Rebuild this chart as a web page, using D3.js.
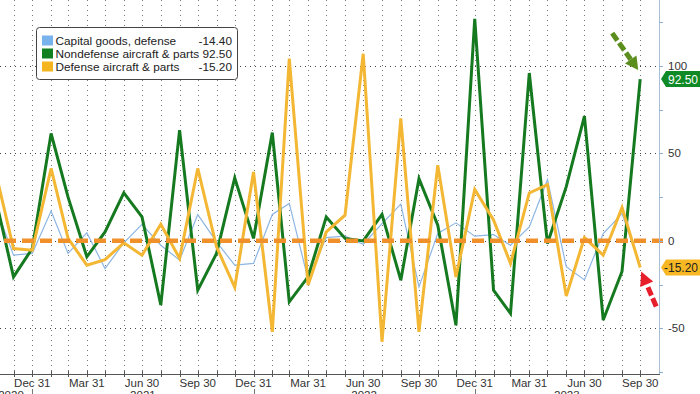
<!DOCTYPE html>
<html>
<head>
<meta charset="utf-8">
<script src="https://cdn.jsdelivr.net/npm/d3@7"></script>
<style>
  html, body { margin: 0; padding: 0; background: #fff; }
  svg { display: block; font-family: "Liberation Sans", Arial, sans-serif; }
</style>
</head>
<body>
<svg id="chart" width="700" height="394"></svg>
<script>
// monthly series, month-end, Oct 2020 .. Sep 2023 (% change)
const first_month = "2020-10-01";
const n_months = 36;

const capital_defense = [20, -8.2, -7.2, 17.1, -7.2, 4.6, -15.8, -1.1, 9.5, -2.5, -11, 15,
  -0.6, -13.9, -12.9, 15.1, 21.4, -22, 1.9, 2.7, -1.9, 9.9, 21, -26.3,
  4.2, 10.3, 2.7, 3.6, -2.5, 8, 35, -14.8, -22.3, 4.2, 15.6, -14.4];
const nondefense_aircraft = [25, -20.6, -4.3, 61.4, 25, -9.1, 5.1, 27.4, 13.7, -36.7, 63.3, -28.2,
  -7.2, 36, 1.4, 61.9, -34.9, -20.6, 13.7, 1.4, 0, 15.1, -22.5, 35.6,
  9, -48.2, 127, -28.2, -41.5, 96, -1.5, 31, 71.3, -45.3, -17.5, 92.5];
const defense_aircraft = [40, -4.4, -5.3, 41.4, 1.4, -13.9, -10.7, -1.1, -8.2, 9.5, -10, 41.4,
  -3.4, -26.6, 39.4, -52, 104.2, -25.3, 5.1, 14.7, 107, -57.7, 70, -52,
  43.3, -20.6, 29.4, 12, -12.9, 27.4, 32.2, -31.6, 1.9, -8.2, 19, -15.2];

const series = [
  { label: "Capital goods, defense", values: capital_defense, color: "#8db6e3", swatch: "#79b3ee", width: 1.2 },
  { label: "Nondefense aircraft & parts", values: nondefense_aircraft, color: "#157a1f", swatch: "#0f7f1f", width: 3 },
  { label: "Defense aircraft & parts", values: defense_aircraft, color: "#f3b733", swatch: "#f5b520", width: 3 },
];

const y_ticks = [-50, 0, 50, 100];
const y_minor = [-75, -50, -25, 0, 25, 50, 75, 100, 125];
const years = [
  { label: "2020", start: "2020-11-08", end: "2020-12-31" },
  { label: "2021", start: "2020-12-31", end: "2021-12-31" },
  { label: "2022", start: "2021-12-31", end: "2022-12-31" },
  { label: "2023", start: "2022-12-31", end: "2023-10-31" },
];

const svg = d3.select("#chart");
const plot = { left: 0, right: 659, top: 0, bottom: 374 };

// month-end dates
const months = d3.utcMonths(new Date(first_month), d3.utcMonth.offset(new Date(first_month), n_months))
  .map(function (d) { return d3.utcDay.offset(d3.utcMonth.offset(d, 1), -1); });

const x = d3.scaleUtc()
  .domain([new Date("2020-12-31"), new Date("2023-09-30")])
  .range([32.3, 640.2]);
const y = d3.scaleLinear().domain([-50, 100]).range([328.3, 66]);

svg.append("defs").append("clipPath").attr("id", "clip")
  .append("rect")
  .attr("x", plot.left).attr("y", plot.top)
  .attr("width", plot.right - plot.left).attr("height", plot.bottom - plot.top);

// vertical grid, monthly
svg.append("g").attr("class", "vgrid")
  .selectAll(null)
  .data(months.slice(1))
  .enter()
  .append("line")
  .attr("x1", function (d) { return Math.round(x(d)) + 0.5; })
  .attr("x2", function (d) { return Math.round(x(d)) + 0.5; })
  .attr("y1", plot.top)
  .attr("y2", plot.bottom)
  .attr("stroke", "#777")
  .attr("stroke-width", 1)
  .attr("stroke-dasharray", "1,4");

// horizontal grid
svg.append("g").attr("class", "hgrid")
  .selectAll(null)
  .data(y_ticks)
  .enter()
  .append("line")
  .attr("x1", plot.left)
  .attr("x2", plot.right)
  .attr("y1", function (d) { return Math.round(y(d)) + 0.5; })
  .attr("y2", function (d) { return Math.round(y(d)) + 0.5; })
  .attr("stroke", "#444")
  .attr("stroke-width", 1)
  .attr("stroke-dasharray", "1,4");

// lines
const line = d3.line()
  .x(function (d, i) { return x(months[i]); })
  .y(function (d) { return y(d); });

svg.append("g").attr("clip-path", "url(#clip)")
  .selectAll(null)
  .data(series)
  .enter()
  .append("path")
  .attr("d", function (d) { return line(d.values); })
  .attr("fill", "none")
  .attr("stroke", function (d) { return d.color; })
  .attr("stroke-width", function (d) { return d.width; })
  .attr("stroke-linejoin", "miter");

// zero line, dashed orange
svg.append("line")
  .attr("x1", plot.left + 4)
  .attr("x2", plot.right + 4)
  .attr("y1", y(0))
  .attr("y2", y(0))
  .attr("stroke", "#f0902a")
  .attr("stroke-width", 4.5)
  .attr("stroke-dasharray", "12,6");

// right axis
const y_axis = svg.append("g")
  .attr("transform", "translate(" + plot.right + ",0)");
y_axis.append("line")
  .attr("x1", 0.5).attr("x2", 0.5)
  .attr("y1", plot.top).attr("y2", plot.bottom)
  .attr("stroke", "#a9bdd3");
y_axis.selectAll(null)
  .data(y_minor)
  .enter()
  .append("line")
  .attr("x1", 0).attr("x2", 4)
  .attr("y1", function (d) { return Math.round(y(d)) + 0.5; })
  .attr("y2", function (d) { return Math.round(y(d)) + 0.5; })
  .attr("stroke", "#8fb0d6");
y_axis.selectAll(null)
  .data(y_ticks)
  .enter()
  .append("text")
  .attr("x", 9)
  .attr("y", function (d) { return y(d) + 4; })
  .attr("font-size", 11.5)
  .attr("fill", "#333")
  .text(function (d) { return d; });

// bottom axis
const x_axis = svg.append("g");
x_axis.append("line")
  .attr("x1", plot.left).attr("x2", plot.right + 1)
  .attr("y1", plot.bottom + 0.5).attr("y2", plot.bottom + 0.5)
  .attr("stroke", "#555");
x_axis.selectAll(null)
  .data(months.slice(1))
  .enter()
  .append("line")
  .attr("x1", function (d) { return Math.round(x(d)) + 0.5; })
  .attr("x2", function (d) { return Math.round(x(d)) + 0.5; })
  .attr("y1", plot.bottom - 3)
  .attr("y2", plot.bottom + 3)
  .attr("stroke", "#555");

const quarter_ends = months.filter(function (d) {
  return (d.getUTCMonth() + 1) % 3 === 0 && d >= new Date("2020-12-31");
});
x_axis.selectAll(null)
  .data(quarter_ends)
  .enter()
  .append("text")
  .attr("x", function (d) { return x(d); })
  .attr("y", plot.bottom + 13)
  .attr("text-anchor", "middle")
  .attr("font-size", 11.5)
  .attr("fill", "#333")
  .text(d3.utcFormat("%b %d"));

// year labels and separators
x_axis.selectAll(null)
  .data(years.slice(1))
  .enter()
  .append("line")
  .attr("x1", function (d) { return Math.round(x(new Date(d.start))) + 0.5; })
  .attr("x2", function (d) { return Math.round(x(new Date(d.start))) + 0.5; })
  .attr("y1", plot.bottom + 15)
  .attr("y2", 394)
  .attr("stroke", "#777");
x_axis.selectAll(null)
  .data(years)
  .enter()
  .append("text")
  .attr("x", function (d, i) {
    if (i === 0) return 11;
    return (x(new Date(d.start)) + x(new Date(d.end))) / 2;
  })
  .attr("y", plot.bottom + 25)
  .attr("text-anchor", "middle")
  .attr("font-size", 11.5)
  .attr("fill", "#333")
  .text(function (d) { return d.label; });

// legend
const leg = svg.append("g").attr("class", "legend").attr("transform", "translate(36,27)");
leg.append("rect")
  .attr("x", 0.5).attr("y", 0.5)
  .attr("width", 201).attr("height", 52)
  .attr("rx", 3)
  .attr("fill", "#fff")
  .attr("stroke", "#444");
const leg_rows = leg.selectAll(null)
  .data(series)
  .enter()
  .append("g")
  .attr("transform", function (d, i) { return "translate(0," + (13.5 + i * 13) + ")"; });
leg_rows.append("rect")
  .attr("x", 6).attr("y", -5)
  .attr("width", 11).attr("height", 10)
  .attr("fill", function (d) { return d.swatch; });
leg_rows.append("text")
  .attr("x", 19.5).attr("y", 4.5)
  .attr("font-size", 11.8)
  .attr("fill", "#222")
  .text(function (d) { return d.label; });
leg_rows.append("text")
  .attr("x", 196).attr("y", 4.5)
  .attr("text-anchor", "end")
  .attr("font-size", 11.8)
  .attr("fill", "#222")
  .text(function (d) { return d.values[d.values.length - 1].toFixed(2); });

// last value tags
const last_x = x(months[months.length - 1]);
const tags = [
  { s: series[1], fill: "#0f8a26", text: "#fff" },
  { s: series[2], fill: "#f7b824", text: "#222" },
];
tags.forEach(function (t) {
  const v = t.s.values[t.s.values.length - 1];
  const cy = y(v);
  svg.append("path")
    .attr("d", "M" + (plot.right + 2) + "," + cy + " L" + (plot.right + 7) + "," + (cy - 8) +
      " L700," + (cy - 8) + " L700," + (cy + 8) + " L" + (plot.right + 7) + "," + (cy + 8) + " Z")
    .attr("fill", t.fill);
  svg.append("text")
    .attr("x", 698)
    .attr("y", cy + 4.5)
    .attr("text-anchor", "end")
    .attr("font-size", 12)
    .attr("fill", t.text)
    .text(v.toFixed(2));
});

// annotation arrows
function dashed_arrow(tip, tail, color, head_len, head_w) {
  const dx = tip[0] - tail[0], dy = tip[1] - tail[1];
  const len = Math.sqrt(dx * dx + dy * dy);
  const ux = dx / len, uy = dy / len;
  const base = [tip[0] - ux * head_len, tip[1] - uy * head_len];
  svg.append("line")
    .attr("x1", tail[0]).attr("y1", tail[1])
    .attr("x2", base[0]).attr("y2", base[1])
    .attr("stroke", color)
    .attr("stroke-width", 5)
    .attr("stroke-dasharray", "9,3");
  svg.append("path")
    .attr("d", "M" + tip[0] + "," + tip[1] +
      " L" + (base[0] - uy * head_w / 2) + "," + (base[1] + ux * head_w / 2) +
      " L" + (base[0] + uy * head_w / 2) + "," + (base[1] - ux * head_w / 2) + " Z")
    .attr("fill", color);
}
const green_last = y(nondefense_aircraft[nondefense_aircraft.length - 1]);
const orange_last = y(defense_aircraft[defense_aircraft.length - 1]);
dashed_arrow([last_x - 2, green_last - 9], [last_x - 28, green_last - 46], "#5b8e1c", 13, 14);
dashed_arrow([last_x + 1, orange_last + 4], [last_x + 16, orange_last + 39], "#e61f2b", 14, 14);
</script>
</body>
</html>
